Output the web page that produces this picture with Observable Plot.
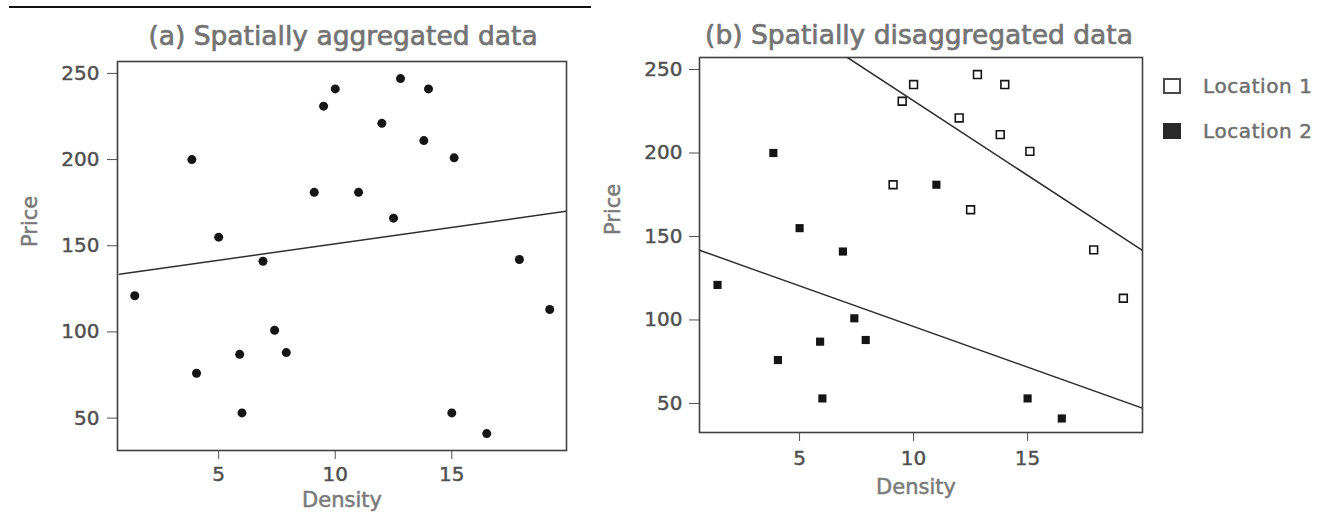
<!DOCTYPE html>
<html>
<head>
<meta charset="utf-8">
<script src="https://cdn.jsdelivr.net/npm/d3@7"></script>
<script src="https://cdn.jsdelivr.net/npm/@observablehq/plot@0.6"></script>
<style>
  html, body { margin: 0; padding: 0; background: #fff; }
  #wrap { position: relative; width: 1335px; height: 524px; overflow: hidden; background: #fff; font-family: "DejaVu Sans", sans-serif; }
  #rule { position: absolute; left: 9px; top: 6px; width: 582px; height: 2px; background: #111; }
  #pa { position: absolute; left: 0; top: 0; width: 600px; height: 524px; }
  #pb { position: absolute; left: 580px; top: 0; width: 755px; height: 524px; }
  #pa svg, #pb svg { max-width: none; }
  #wrap svg g[aria-label="x-axis tick label"],
  #wrap svg g[aria-label="y-axis tick label"] { stroke: #505050; stroke-width: 0.45px; }
  .sw { position: absolute; box-sizing: border-box; width: 18px; height: 16px; }
  .lt { position: absolute; font-size: 20px; color: #707070; -webkit-text-stroke: 0.5px #707070; line-height: 24px; letter-spacing: 0.6px; }
</style>
</head>
<body>
<div id="wrap">
  <div id="rule"></div>
  <div id="pa"></div>
  <div id="pb"></div>
  <div class="sw" style="left:1163px; top:78px; border:2.5px solid #4a4a4a; background:#fff;"></div>
  <div class="lt" style="left:1203px; top:74px;">Location 1</div>
  <div class="sw" style="left:1163px; top:123px; background:#2a2a2a;"></div>
  <div class="lt" style="left:1203px; top:119px;">Location 2</div>
</div>
<script>
// ---- data ----
const density  = [1.4, 3.85, 5.0, 6.9, 9.1, 9.5, 10.0, 11.0, 12.0, 12.5, 12.8, 13.8, 14.0, 15.1, 17.9, 19.2, 7.4, 5.9, 7.9, 4.05, 6.0, 15.0, 16.5];
const price    = [121, 200, 155, 141, 181, 231, 241, 181, 221, 166, 247, 211, 241, 201, 142, 113, 101, 87, 88, 76, 53, 53, 41];
const locationId = ["2","2","2","2","1","1","1","2","1","1","1","1","1","1","1","1","2","2","2","2","2","2","2"];

// fitted lines (end points)
const fitAggX  = [0.74, 19.92];
const fitAggY  = [133.5, 170.0];
const fitLoc1X = [7.1, 20.04];
const fitLoc1Y = [257.2, 141.6];
const fitLoc2X = [0.61, 20.04];
const fitLoc2Y = [141.8, 47.2];

const xTicks = [5, 10, 15];
const yTicks = [50, 100, 150, 200, 250];

const titleA = "(a) Spatially aggregated data";
const titleB = "(b) Spatially disaggregated data";
const xLabel = "Density";
const yLabel = "Price";

// ---- tables ----
const pts = density.map((d, i) => ({x: d, y: price[i], loc: locationId[i]}));
const toRows = (xs, ys) => xs.map((x, i) => ({x, y: ys[i]}));
const lineAgg = toRows(fitAggX, fitAggY);
const line1 = toRows(fitLoc1X, fitLoc1Y);
const line2 = toRows(fitLoc2X, fitLoc2Y);

const ink = "#151515";
const frameInk = "#404040";
const titleInk = "#747474";
const labelInk = "#7a7a7a";

const baseStyle = {fontFamily: "DejaVu Sans, sans-serif", fontSize: "20px", color: "#505050", background: "transparent", overflow: "visible"};

const titleOpts = {fontSize: 26.5, fill: titleInk, stroke: titleInk, strokeWidth: 0.7};
const labelOpts = {fontSize: 21, fill: labelInk, stroke: labelInk, strokeWidth: 0.5};

const plotA = Plot.plot({
  width: 600, height: 524,
  marginLeft: 117, marginRight: 34, marginTop: 61, marginBottom: 74,
  style: baseStyle,
  x: {domain: [0.66, 19.92], ticks: xTicks, tickSize: 9, tickPadding: 7, label: null},
  y: {domain: [31.2, 256.9], ticks: yTicks, tickSize: 10, tickPadding: 8, label: null},
  marks: [
    Plot.frame({stroke: frameInk, strokeWidth: 1.6}),
    Plot.line(lineAgg, {x: "x", y: "y", stroke: "#2e2e2e", strokeWidth: 1.5, clip: true}),
    Plot.dot(pts, {x: "x", y: "y", r: 4.5, fill: ink, stroke: "none"}),
    Plot.text([titleA], {frameAnchor: "top", dy: -35, dx: 1, ...titleOpts}),
    Plot.text([xLabel], {frameAnchor: "bottom", dy: 56, ...labelOpts}),
    Plot.text([yLabel], {frameAnchor: "left", dx: -87, dy: -9, rotate: -90, ...labelOpts})
  ]
});
document.getElementById("pa").appendChild(plotA);

const plotB = Plot.plot({
  width: 755, height: 524,
  marginLeft: 119, marginRight: 193, marginTop: 57, marginBottom: 92,
  style: baseStyle,
  x: {domain: [0.61, 20.04], ticks: xTicks, tickSize: 9, tickPadding: 9, label: null},
  y: {domain: [32.6, 257.2], ticks: yTicks, tickSize: 10, tickPadding: 7, label: null},
  marks: [
    Plot.frame({stroke: frameInk, strokeWidth: 1.6}),
    Plot.line(line1, {x: "x", y: "y", stroke: "#2e2e2e", strokeWidth: 1.5, clip: true}),
    Plot.line(line2, {x: "x", y: "y", stroke: "#2e2e2e", strokeWidth: 1.5, clip: true}),
    Plot.dot(pts.filter(d => d.loc === "1"), {x: "x", y: "y", symbol: "square", r: 4.4, fill: "#fff", stroke: ink, strokeWidth: 1.6}),
    Plot.dot(pts.filter(d => d.loc === "2"), {x: "x", y: "y", symbol: "square", r: 4.6, fill: ink, stroke: "none"}),
    Plot.text([titleB], {frameAnchor: "top", dy: -32, dx: -2, ...titleOpts}),
    Plot.text([xLabel], {frameAnchor: "bottom", dy: 61, dx: -5, ...labelOpts}),
    Plot.text([yLabel], {frameAnchor: "left", dx: -86, dy: -10, rotate: -90, ...labelOpts})
  ]
});
document.getElementById("pb").appendChild(plotB);
</script>
</body>
</html>
